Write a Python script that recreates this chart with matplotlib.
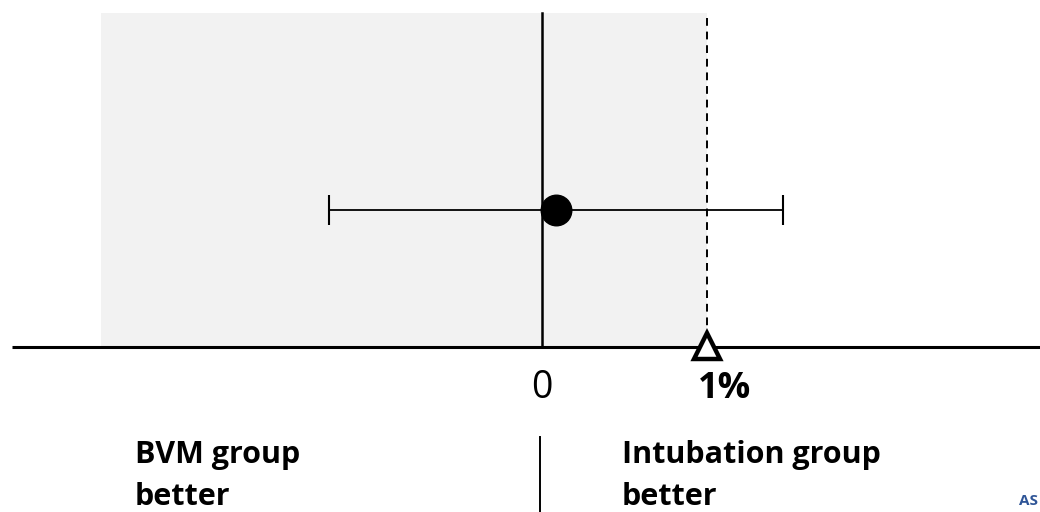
import numpy as np
import matplotlib.pyplot as plt
from matplotlib.patches import Rectangle

# estimate and CI (risk difference, %)
point_est = 0.085
ci_low = -1.29
ci_high = 1.46
margin = 1.0
shade_left = -2.67
tick_labels = ["0", "1%"]

fig = plt.figure(figsize=(10.4, 5.12), dpi=100)
ax = fig.add_axes([0, 0, 1, 1])
ax.set_xlim(-542 / 165, (1040 - 542) / 165)
ax.set_ylim(512, 0)
ax.axis("off")

font = "Open Sans"
px = lambda p: (p - 542) / 165

# grey shaded region
ax.add_patch(Rectangle((shade_left, 13), margin - shade_left, 334, facecolor="#f2f2f2",
                       edgecolor="none", zorder=0))
# x axis line
ax.plot([px(12), 3.1], [347, 347], color="black", lw=2.2, zorder=2, solid_capstyle="butt")
# zero line
ax.plot([0, 0], [13, 347], color="black", lw=1.8, zorder=2)
# margin dashed line
ax.plot([margin, margin], [18, 345], color="black", lw=1.4, ls=(0, (4, 3)), zorder=2)

# error bar
ax.errorbar([point_est], [210], xerr=[[point_est - ci_low], [ci_high - point_est]],
            fmt="o", color="black", ms=22, elinewidth=1.3, capsize=11, capthick=1.5, zorder=3)

# triangle marker
ax.plot([margin], [346], marker="^", ms=19, mfc="white", mec="black", mew=3.2, zorder=4)

ax.text(0, 398, tick_labels[0], fontsize=27, ha="center", va="baseline", family=font)
ax.text(px(725), 398, tick_labels[1], fontsize=26, ha="center", va="baseline",
        family=font, fontweight="bold")

for x0, line1 in [(135, "BVM group"), (622, "Intubation group")]:
    ax.text(px(x0), 463, line1, fontsize=22, ha="left", va="baseline",
            family=font, fontweight="bold")
    ax.text(px(x0), 505, "better", fontsize=22, ha="left", va="baseline",
            family=font, fontweight="bold")
ax.plot([px(540)] * 2, [437, 512], color="black", lw=1.4)

ax.text(px(1019), 505, "AS", fontsize=11, ha="left", va="baseline",
        family=font, fontweight="bold", color="#2f5597")

fig.savefig("out.png", dpi=100)
